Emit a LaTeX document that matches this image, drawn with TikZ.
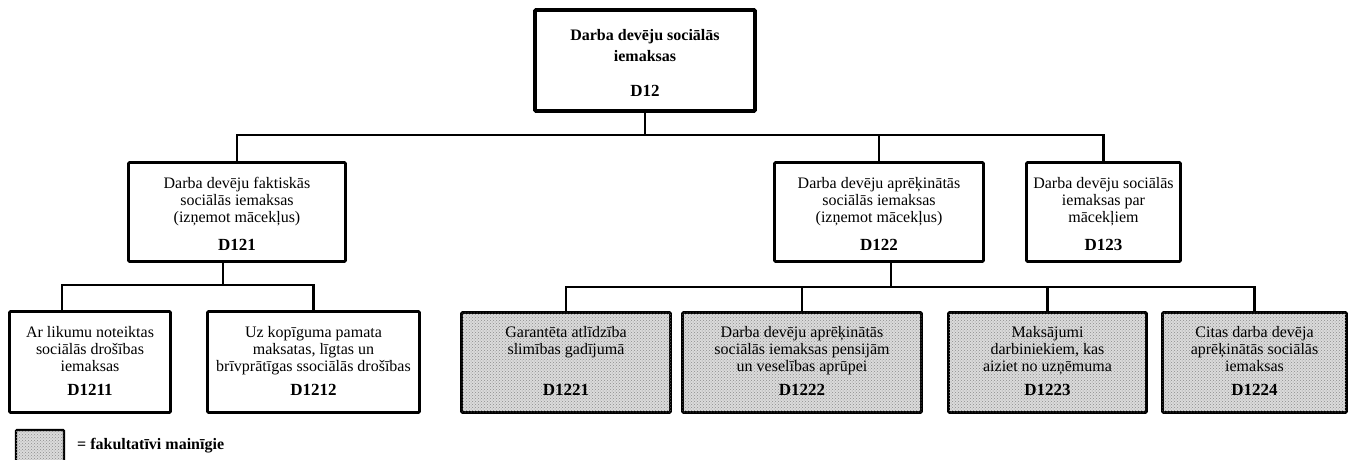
\documentclass[tikz,border=0pt]{standalone}
\usepackage{fontspec}
\setmainfont{Liberation Serif}
\usetikzlibrary{calc,patterns}
\tikzset{
  box/.style={draw=black, line width=2.6pt, rounded corners=1pt, fill=white,
              inner sep=0pt, minimum height=99pt},
  topbox/.style={box, line width=3.6pt},
  optbox/.style={box, fill=black!14, postaction={pattern=crosshatch dots, pattern color=black!45}},
  conn/.style={draw=black, line width=2.4pt},
  desc/.style={anchor=north, align=center, inner sep=0pt,
               font=\fontsize{16}{17}\selectfont},
  code/.style={inner sep=0pt, font=\fontsize{17}{19}\selectfont\bfseries},
}
\begin{document}
\begin{tikzpicture}[x=1pt,y=-1pt]
\useasboundingbox (0,0) rectangle (1351,460);

% ---- top level ----
\node[topbox, minimum width=220pt, minimum height=101pt] (d12) at (645,60.5) {};
\node[desc, font=\fontsize{16}{21}\selectfont\bfseries] (t12) at (645,29)
  {Darba devēju sociālās\\iemaksas};
\node[code] (c12) at (645,91) {D12};

% ---- second level ----
\node[box, minimum width=217pt] (d121) at (237,212) {};
\node[desc] (t121) at (237,177) {Darba devēju faktiskās\\sociālās iemaksas\\(izņemot mācekļus)};
\node[code] (c121) at (237,245) {D121};

\node[box, minimum width=209pt] (d122) at (879,212) {};
\node[desc] (t122) at (879,177) {Darba devēju aprēķinātās\\sociālās iemaksas\\(izņemot mācekļus)};
\node[code] (c122) at (879,245) {D122};

\node[box, minimum width=154pt] (d123) at (1103.5,212) {};
\node[desc] (t123) at (1103.5,177) {Darba devēju sociālās\\iemaksas par\\mācekļiem};
\node[code] (c123) at (1103.5,245) {D123};

% ---- third level ----
\node[box, minimum width=161pt, minimum height=101pt] (d1211) at (90,362) {};
\node[desc] (t1211) at (90,326) {Ar likumu noteiktas\\sociālās drošības\\iemaksas};
\node[code] (c1211) at (90,390) {D1211};

\node[box, minimum width=212pt, minimum height=101pt] (d1212) at (313.5,362) {};
\node[desc] (t1212) at (313.5,326) {Uz kopīguma pamata\\maksatas, līgtas un\\brīvprātīgas ssociālās drošības};
\node[code] (c1212) at (313.5,390) {D1212};

\node[optbox, minimum width=209pt, minimum height=100pt] (d1221) at (566,362.5) {};
\node[desc] (t1221) at (566,326) {Garantēta atlīdzība\\slimības gadījumā};
\node[code] (c1221) at (566,390) {D1221};

\node[optbox, minimum width=239pt, minimum height=100pt] (d1222) at (802,362.5) {};
\node[desc] (t1222) at (802,326) {Darba devēju aprēķinātās\\sociālās iemaksas pensijām\\un veselības aprūpei};
\node[code] (c1222) at (802,390) {D1222};

\node[optbox, minimum width=198pt, minimum height=100pt] (d1223) at (1047.5,362.5) {};
\node[desc] (t1223) at (1047.5,326) {Maksājumi\\darbiniekiem, kas\\aiziet no uzņēmuma};
\node[code] (c1223) at (1047.5,390) {D1223};

\node[optbox, minimum width=184pt, minimum height=100pt] (d1224) at (1254.5,362.5) {};
\node[desc] (t1224) at (1254.5,326) {Citas darba devēja\\aprēķinātās sociālās\\iemaksas};
\node[code] (c1224) at (1254.5,390) {D1224};

% ---- connectors ----
\coordinate (b1) at (645,135);
\draw[conn] (d12.south) -- (b1);
\draw[conn] (d121.north) |- (b1) -| (d123.north);
\draw[conn] (d122.north) -- (d122.north |- b1);

\coordinate (b2) at (223,285);
\draw[conn] (b2 |- d121.south) -- (b2);
\draw[conn] ([xshift=-28pt]d1211.north) |- (b2) -| (d1212.north);

\coordinate (b3) at (891,287);
\draw[conn] (b3 |- d122.south) -- (b3);
\draw[conn] (d1221.north) |- (b3) -| (d1224.north);
\draw[conn] (d1222.north) -- (d1222.north |- b3);
\draw[conn] (d1223.north) -- (d1223.north |- b3);

% ---- legend ----
\node[optbox, line width=2.4pt, minimum width=48pt, minimum height=32pt] (key) at (40,446) {};
\node[anchor=west, inner sep=0pt, font=\fontsize{16}{18}\selectfont\bfseries] (keytext) at (77,446)
  {= fakultatīvi mainīgie};
\end{tikzpicture}
\end{document}
